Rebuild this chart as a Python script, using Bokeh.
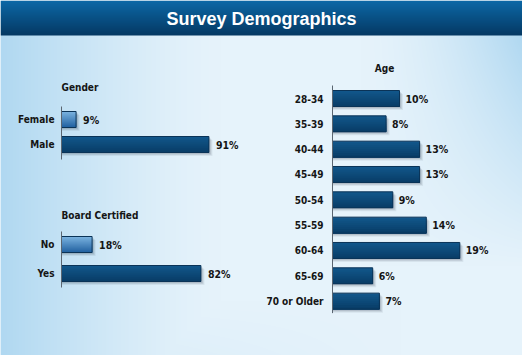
import numpy as np
from bokeh.plotting import figure
from bokeh.models import Range1d, ColumnDataSource
from bokeh.embed import file_html
from bokeh.resources import INLINE
from bokeh.core.properties import value

W, H = 522, 355

chart_title = "Survey Demographics"
gender_title = "Gender"
gender_cats = ["Female", "Male"]
gender_vals = [9, 91]
board_title = "Board Certified"
board_cats = ["No", "Yes"]
board_vals = [18, 82]
age_title = "Age"
age_cats = ["28-34", "35-39", "40-44", "45-49", "50-54", "55-59", "60-64", "65-69", "70 or Older"]
age_vals = [10, 8, 13, 13, 9, 14, 19, 6, 7]

FONT = "DejaVu Sans Condensed"
TITLE_FONT = "Liberation Sans"

p = figure(width=W, height=H, x_range=Range1d(0, W), y_range=Range1d(0, H),
           output_backend="svg", toolbar_location=None, min_border=0)
p.axis.visible = False
p.grid.visible = False
p.outline_line_color = None
p.background_fill_color = "#e2f1fa"
p.border_fill_color = "#e2f1fa"

# ---- background gradient image (styling only) ----
xs = np.arange(W)[None, :].astype(float)
ts = np.arange(H)[:, None].astype(float)  # pixel from top
base = np.array([230, 243, 251], float)
blue = np.array([176, 216, 241], float)
wl = np.clip(1 - xs / 220.0, 0, 1) ** 1.4
wr = (np.clip((xs - 360) / 162.0, 0, 1) ** 1.6) * np.clip(1 - (ts - 35) / 230.0, 0, 1)
wb = np.clip((ts - 300) / 55.0, 0, 1) * 0.25 * np.clip(1 - xs / 400.0, 0, 1)
w = np.clip(np.maximum(np.maximum(wl, wr), wb), 0, 1)
rgb = base[None, None, :] * (1 - w[..., None]) + blue[None, None, :] * w[..., None]
# title bar
bar_top = np.array([12, 104, 166], float)
bar_bot = np.array([5, 56, 98], float)
tb = 35
f = np.clip(ts / tb, 0, 1)[..., None] * np.ones((1, W, 1))
bar_rgb = bar_top * (1 - f) + bar_bot * f
mask = (ts < tb)[..., None] * np.ones((1, W, 1))
rgb = np.where(mask > 0, bar_rgb, rgb)
rgb = rgb.astype(np.uint32)
img = (255 << 24) | (rgb[..., 2] << 16) | (rgb[..., 1] << 8) | rgb[..., 0]
img = img[::-1, :].astype(np.uint32)  # bottom row first
p.image_rgba(image=[img], x=0, y=0, dw=W, dh=H)

p.text(x=[W / 2], y=[H - 18], text=[chart_title], text_color="white",
       text_font=value(TITLE_FONT), text_font_style="bold", text_font_size="18px",
       text_align="center", text_baseline="middle")


def hexrgb(h):
    h = h.lstrip("#")
    return np.array([int(h[i:i + 2], 16) for i in (0, 2, 4)], float)


def tohex(c):
    return "#%02x%02x%02x" % tuple(int(round(v)) for v in c)


DARK_TOP, DARK_BOT = hexrgb("#11568a"), hexrgb("#093e68")
LIGHT_TOP, LIGHT_BOT = hexrgb("#76aedc"), hexrgb("#2565a3")

LAB = dict(text_font=value(FONT), text_font_style="bold", text_font_size="10px",
           text_color="#151515")


def panel(name, title, cats, vals, x0, kx, t0, ky, light, title_pos, title_align,
          lab_off, val_off, ax_top, ax_bot):
    p.extra_x_ranges[name] = Range1d(start=-x0 / kx, end=(W - x0) / kx)
    p.extra_y_ranges[name] = Range1d(start=(H - t0) / ky, end=-t0 / ky)
    n = len(cats)
    idx = list(range(n))
    bh = 16.0 / ky
    src = ColumnDataSource(dict(y=idx, v=vals, cat=cats, lab=[f"{v}%" for v in vals]))
    kw = dict(x_range_name=name, y_range_name=name)
    # shadows
    for off, alpha in ((3.5, 0.07), (2.5, 0.10), (1.5, 0.12)):
        p.hbar(y=[i + off / ky for i in idx], left=0, right=[v + off / kx for v in vals],
               height=bh, fill_color="#1a2a3a", fill_alpha=alpha, line_color=None, **kw)
    # gradient: overlapping strips, each reaching the bar's bottom edge
    ns = 8
    sh = 16.0 / ns
    for j in range(ns):
        fr = j / (ns - 1)
        cols = []
        for i in idx:
            top, bot = (LIGHT_TOP, LIGHT_BOT) if i in light else (DARK_TOP, DARK_BOT)
            cols.append(tohex(top * (1 - fr) + bot * fr))
        top_px = -8 + j * sh
        hpx = 8 - top_px
        yy = [i + (top_px + hpx / 2) / ky for i in idx]
        p.hbar(y=yy, left=0, right=vals, height=hpx / ky,
               fill_color=cols, line_color=None, **kw)
    p.hbar(y="y", left=0, right="v", height=bh, source=src, fill_color=None,
           line_color="#0a3357", line_width=1, **kw)
    # axis line
    p.segment(x0=[0], x1=[0], y0=[-ax_top / ky], y1=[n - 1 + ax_bot / ky],
              line_color="#5a6570", line_width=1, **kw)
    # labels
    p.text(x=0, y="y", text="cat", source=src, x_offset=lab_off, text_align="right",
           text_baseline="middle", **LAB, **kw)
    p.text(x="v", y="y", text="lab", source=src, x_offset=val_off, text_align="left",
           text_baseline="middle", text_font=value(FONT), text_font_style="bold",
           text_font_size="10.5px", text_color="#151515", **kw)
    tx, tt = title_pos
    p.text(x=[tx], y=[H - tt], text=[title], text_align=title_align, text_baseline="middle",
           **LAB)


panel("gender", gender_title, gender_cats, gender_vals, 61, 1.62, 119, 25, [0],
      (61, 87), "left", -7, 7, 13, 15)
panel("board", board_title, board_cats, board_vals, 61, 1.70, 244, 29, [0],
      (61, 215), "left", -7, 7, 13, 14)
panel("age", age_title, age_cats, age_vals, 332, 6.7, 98, 25.33, [],
      (384, 68), "center", -9, 6, 13, 12)

open("out.html", "w").write(file_html(p, INLINE))
